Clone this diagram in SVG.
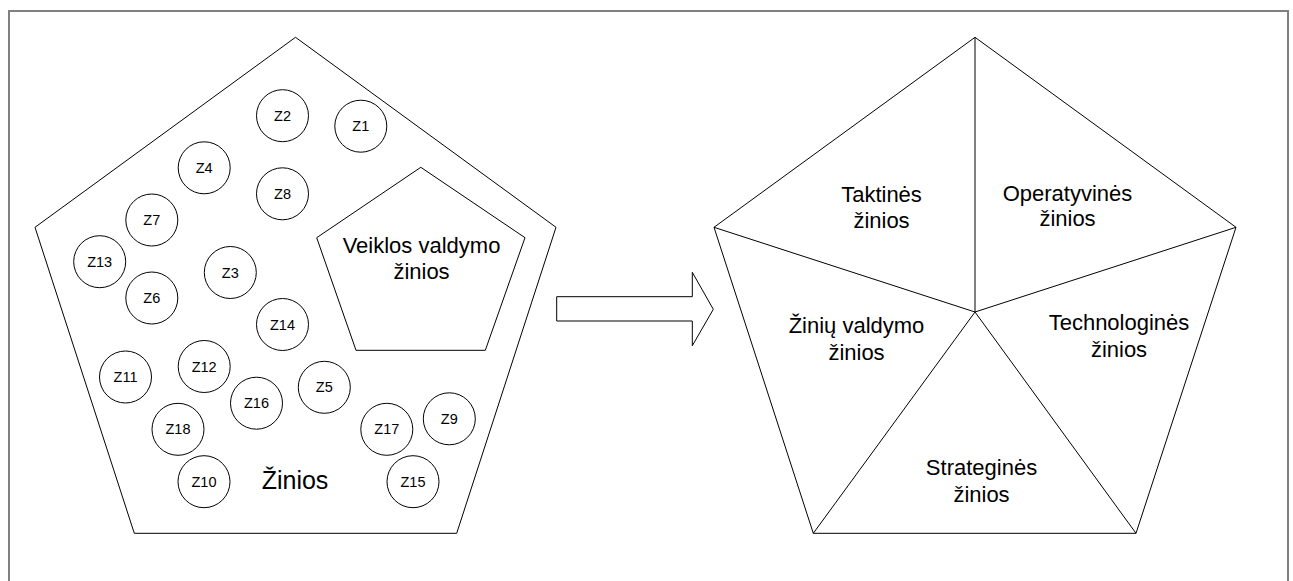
<svg xmlns="http://www.w3.org/2000/svg" width="1293" height="581" viewBox="0 0 1293 581">
  <style>
    .shape { fill: #ffffff; stroke: #000000; stroke-width: 1; stroke-linejoin: miter; }
    .line { fill: none; stroke: #000000; stroke-width: 1; }
    .frame { fill: none; stroke: #808080; stroke-width: 2; }
    text { font-family: "Liberation Sans", Arial, sans-serif; fill: #000000; text-anchor: middle; }
    .zl { font-size: 14.5px; }
    .lbl { font-size: 22px; }
    .big { font-size: 25px; }
  </style>

  <rect width="1293" height="581" fill="#ffffff"/>

  <!-- page frame (open at the bottom) -->
  <path class="frame" d="M9,581 V11 H1288 V581"/>

  <!-- left: knowledge pool pentagon -->
  <g id="pool">
    <polygon class="shape" points="295.5,37.3 556,227.3 456.7,533.3 134.3,533.3 35,227.3"/>
    <text class="big" x="295" y="489">Žinios</text>
  </g>

  <!-- inner pentagon: business management knowledge -->
  <g id="veiklos-valdymo">
    <polygon class="shape" points="420.8,167.3 525,237.7 485.3,350.3 356,350.3 316.7,237.7"/>
    <text class="lbl" x="421.5" y="253.3">Veiklos valdymo</text>
    <text class="lbl" x="421.5" y="279.3">žinios</text>
  </g>

  <!-- knowledge items -->
  <g id="z1"><circle class="shape" cx="360.8" cy="126.2" r="26"/><text class="zl" x="360.8" y="131.2">Z1</text></g>
  <g id="z2"><circle class="shape" cx="282.5" cy="115.7" r="26"/><text class="zl" x="282.5" y="120.7">Z2</text></g>
  <g id="z3"><circle class="shape" cx="230.3" cy="272.5" r="26"/><text class="zl" x="230.3" y="277.5">Z3</text></g>
  <g id="z4"><circle class="shape" cx="204.2" cy="167.8" r="26"/><text class="zl" x="204.2" y="172.8">Z4</text></g>
  <g id="z5"><circle class="shape" cx="324.3" cy="387.3" r="26"/><text class="zl" x="324.3" y="392.3">Z5</text></g>
  <g id="z6"><circle class="shape" cx="151.8" cy="298" r="26"/><text class="zl" x="151.8" y="303">Z6</text></g>
  <g id="z7"><circle class="shape" cx="151.8" cy="220" r="26"/><text class="zl" x="151.8" y="225">Z7</text></g>
  <g id="z8"><circle class="shape" cx="282.5" cy="193.8" r="26"/><text class="zl" x="282.5" y="198.8">Z8</text></g>
  <g id="z9"><circle class="shape" cx="449.3" cy="418.8" r="26"/><text class="zl" x="449.3" y="423.8">Z9</text></g>
  <g id="z10"><circle class="shape" cx="204" cy="481.7" r="26"/><text class="zl" x="204" y="486.7">Z10</text></g>
  <g id="z11"><circle class="shape" cx="125.5" cy="377" r="26"/><text class="zl" x="125.5" y="382">Z11</text></g>
  <g id="z12"><circle class="shape" cx="204.2" cy="366.5" r="26"/><text class="zl" x="204.2" y="371.5">Z12</text></g>
  <g id="z13"><circle class="shape" cx="99.7" cy="261.7" r="26"/><text class="zl" x="99.7" y="266.7">Z13</text></g>
  <g id="z14"><circle class="shape" cx="282.5" cy="324.5" r="26"/><text class="zl" x="282.5" y="329.5">Z14</text></g>
  <g id="z15"><circle class="shape" cx="413" cy="481.7" r="26"/><text class="zl" x="413" y="486.7">Z15</text></g>
  <g id="z16"><circle class="shape" cx="256.5" cy="403.2" r="26"/><text class="zl" x="256.5" y="408.2">Z16</text></g>
  <g id="z17"><circle class="shape" cx="386.8" cy="429.3" r="26"/><text class="zl" x="386.8" y="434.3">Z17</text></g>
  <g id="z18"><circle class="shape" cx="178" cy="429.3" r="26"/><text class="zl" x="178" y="434.3">Z18</text></g>

  <!-- block arrow between the two pentagons -->
  <g id="connectors">
    <polygon class="shape" points="556.7,296.7 692.3,296.7 692.3,272.3 713.3,309.3 692.3,345.7 692.3,321 556.7,321"/>
  </g>

  <!-- right: knowledge types pentagon, split into five sectors -->
  <g id="types">
    <polygon class="shape" points="975,37.3 1236,227.3 1136,533.3 813.3,533.3 714,227.3"/>
    <path class="line" d="M975,312 L975,37.3 M975,312 L1236,227.3 M975,312 L1136,533.3 M975,312 L813.3,533.3 M975,312 L714,227.3"/>
  </g>
  <g id="taktines">
    <text class="lbl" x="881.5" y="202.3">Taktinės</text>
    <text class="lbl" x="881.5" y="228.3">žinios</text>
  </g>
  <g id="operatyvines">
    <text class="lbl" x="1067.5" y="200.5">Operatyvinės</text>
    <text class="lbl" x="1067.5" y="226">žinios</text>
  </g>
  <g id="ziniu-valdymo">
    <text class="lbl" x="856.5" y="333.3">Žinių valdymo</text>
    <text class="lbl" x="856.5" y="360">žinios</text>
  </g>
  <g id="technologines">
    <text class="lbl" x="1119" y="330">Technologinės</text>
    <text class="lbl" x="1119" y="356.7">žinios</text>
  </g>
  <g id="strategines">
    <text class="lbl" x="981.5" y="475">Strateginės</text>
    <text class="lbl" x="981.5" y="501.5">žinios</text>
  </g>
</svg>
